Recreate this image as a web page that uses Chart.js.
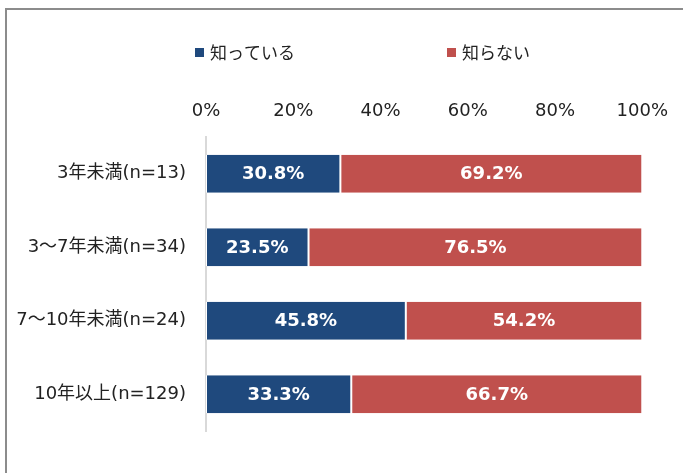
<!DOCTYPE html>
<html>
<head>
<meta charset="utf-8">
<script src="https://cdn.jsdelivr.net/npm/chart.js@4.4.1/dist/chart.umd.min.js"></script>
<style>
    html, body { margin: 0; padding: 0; background: #fff; }
    #wrap { position: relative; width: 683px; height: 473px; overflow: hidden; }
    #frame {
        position: absolute; left: 5px; top: 8px; width: 700px; height: 500px;
        border-left: 2px solid #8c8c8c; border-top: 2px solid #8c8c8c;
        box-sizing: border-box;
    }
    canvas { position: absolute; left: 0; top: 0; }
</style>
</head>
<body>
<div id="wrap">
    <div id="frame"></div>
    <canvas id="knowChart" width="683" height="473"></canvas>
</div>
<script>
// 経験年数別の認知度
const categories = ["3年未満(n=13)", "3～7年未満(n=34)", "7～10年未満(n=24)", "10年以上(n=129)"];
const seriesNames = ["知っている", "知らない"];
const knowValues = [30.8, 23.5, 45.8, 33.3];
const notKnowValues = [69.2, 76.5, 54.2, 66.7];
const tickValues = [0, 20, 40, 60, 80, 100];

const colors = ["#1f497d", "#c0504d"];
const textFont = "'DejaVu Sans', 'Noto Sans CJK JP', sans-serif";

// 凡例（上部）
const legendPlugin = {
    id: "topLegend",
    afterDraw(chart) {
        const ctx = chart.ctx;
        const xs = [195, 447];
        ctx.save();
        ctx.font = "17px 'Noto Sans CJK JP', sans-serif";
        ctx.textBaseline = "middle";
        ctx.textAlign = "left";
        chart.data.datasets.forEach((ds, i) => {
            ctx.fillStyle = ds.backgroundColor;
            ctx.fillRect(xs[i], 48, 9, 9);
            ctx.fillStyle = "#222";
            ctx.fillText(ds.label, xs[i] + 15, 53);
        });
        ctx.restore();
    }
};

// バー中央に値を表示
const valueLabels = {
    id: "valueLabels",
    afterDatasetsDraw(chart) {
        const ctx = chart.ctx;
        ctx.save();
        ctx.font = "bold 18px 'DejaVu Sans', sans-serif";
        ctx.fillStyle = "#fff";
        ctx.textAlign = "center";
        ctx.textBaseline = "middle";
        chart.data.datasets.forEach((ds, i) => {
            chart.getDatasetMeta(i).data.forEach((bar, j) => {
                const x = (bar.x + bar.base) / 2;
                ctx.fillText(ds.data[j].toFixed(1) + "%", x, bar.y + 1);
            });
        });
        ctx.restore();
    }
};

new Chart(document.getElementById("knowChart"), {
    type: "bar",
    data: {
        labels: categories,
        datasets: [
            {
                label: seriesNames[0],
                data: knowValues,
                backgroundColor: colors[0]
            },
            {
                label: seriesNames[1],
                data: notKnowValues,
                backgroundColor: colors[1]
            }
        ]
    },
    options: {
        indexAxis: "y",
        responsive: false,
        animation: false,
        layout: {
            padding: { top: 0, right: 37, bottom: 42, left: 0 }
        },
        datasets: {
            bar: {
                categoryPercentage: 1,
                barPercentage: 0.52,
                borderColor: "#fff",
                borderWidth: { left: 1, right: 1, top: 0, bottom: 0 },
                borderSkipped: false
            }
        },
        plugins: {
            legend: { display: false },
            tooltip: { enabled: false }
        },
        scales: {
            x: {
                position: "top",
                stacked: true,
                min: 0,
                max: 100,
                grid: { display: false, drawTicks: false },
                border: { display: false },
                afterBuildTicks: (scale) => {
                    scale.ticks = tickValues.map(v => ({ value: v }));
                },
                afterFit: (scale) => { scale.height = 137; },
                ticks: {
                    autoSkip: false,
                    maxRotation: 0,
                    padding: 15,
                    color: "#222",
                    font: { family: textFont, size: 18 },
                    callback: (v) => v + "%"
                }
            },
            y: {
                stacked: true,
                grid: { display: false, drawTicks: false },
                border: { display: true, color: "#d9d9d9", width: 2 },
                afterFit: (scale) => { scale.width = 206; },
                ticks: {
                    padding: 20,
                    color: "#222",
                    font: { family: textFont, size: 18 }
                }
            }
        }
    },
    plugins: [legendPlugin, valueLabels]
});
</script>
</body>
</html>
